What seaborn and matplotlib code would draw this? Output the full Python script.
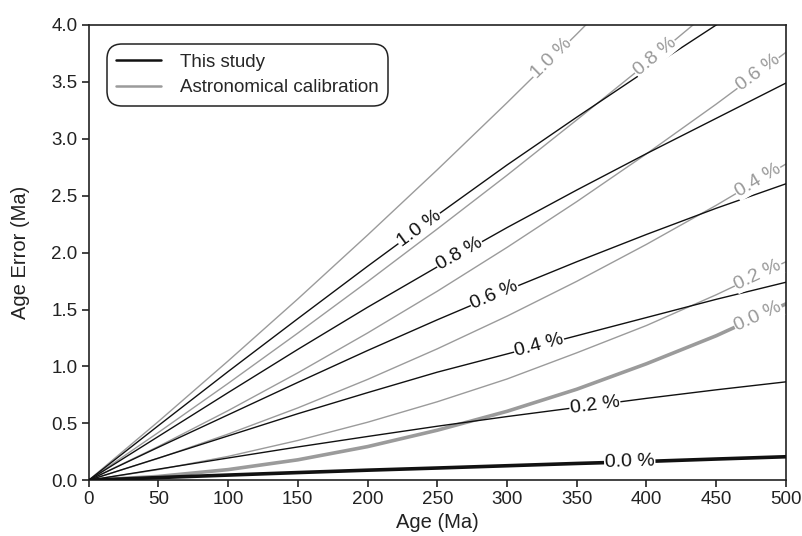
import numpy as np
import pandas as pd
import matplotlib
matplotlib.use("Agg")
import matplotlib.pyplot as plt
import seaborn as sns
from matplotlib.lines import Line2D

# ---- data ----
age = [0, 50, 100, 150, 200, 250, 300, 350, 400, 450, 500]
pct_labels = ["0.0 %", "0.2 %", "0.4 %", "0.6 %", "0.8 %", "1.0 %"]

study_00 = [0, 0.024, 0.046, 0.068, 0.089, 0.108, 0.128, 0.148, 0.166, 0.187, 0.207]
study_02 = [0, 0.098, 0.196, 0.293, 0.385, 0.475, 0.56, 0.64, 0.72, 0.795, 0.865]
study_04 = [0, 0.195, 0.39, 0.585, 0.77, 0.95, 1.11, 1.27, 1.43, 1.59, 1.74]
study_06 = [0, 0.29, 0.575, 0.86, 1.14, 1.41, 1.67, 1.92, 2.16, 2.39, 2.605]
study_08 = [0, 0.385, 0.77, 1.15, 1.52, 1.875, 2.22, 2.55, 2.87, 3.18, 3.49]
study_10 = [0, 0.48, 0.955, 1.42, 1.88, 2.33, 2.77, 3.19, 3.60, 4.00, 4.40]

astro_00 = [0, 0.034, 0.094, 0.18, 0.296, 0.44, 0.606, 0.80, 1.024, 1.27, 1.55]
astro_02 = [0, 0.094, 0.21, 0.35, 0.51, 0.69, 0.89, 1.12, 1.36, 1.63, 1.92]
astro_04 = [0, 0.193, 0.406, 0.636, 0.886, 1.155, 1.442, 1.748, 2.073, 2.416, 2.779]
astro_06 = [0, 0.297, 0.612, 0.944, 1.294, 1.661, 2.046, 2.448, 2.868, 3.305, 3.76]
astro_08 = [0, 0.42, 0.851, 1.293, 1.745, 2.208, 2.68, 3.166, 3.66, 4.17, 4.68]
astro_10 = [0, 0.516, 1.048, 1.593, 2.154, 2.728, 3.317, 3.92, 4.54, 5.18, 5.84]

study_label_x = [388, 363, 323, 291, 266, 237]
astro_label_x = [480, 480, 480, 480, 406, 332]

x_ticks = [0, 50, 100, 150, 200, 250, 300, 350, 400, 450, 500]
y_ticks = [0.0, 0.5, 1.0, 1.5, 2.0, 2.5, 3.0, 3.5, 4.0]

study = [study_00, study_02, study_04, study_06, study_08, study_10]
astro = [astro_00, astro_02, astro_04, astro_06, astro_08, astro_10]

# ---- style ----
sns.set_theme(style="ticks")
plt.rcParams["font.family"] = ["Liberation Sans", "DejaVu Sans"]
plt.rcParams["axes.linewidth"] = 1.2

BLACK = "#111111"
GRAY = "#9b9b9b"
GRAY_TXT = "#999999"
TXT = "#222222"

fig = plt.figure(figsize=(8.03, 5.36), dpi=100)
ax = fig.add_axes([0.1103, 0.1039, 0.9788 - 0.1103, 0.9534 - 0.1039])

rows = []
for lab, s in zip(pct_labels, study):
    for a, v in zip(age, s):
        rows.append(dict(age=a, err=v, curve=lab, source="This study"))
for lab, s in zip(pct_labels, astro):
    for a, v in zip(age, s):
        rows.append(dict(age=a, err=v, curve=lab, source="Astronomical calibration"))
df = pd.DataFrame(rows)

for src, col, z in [("Astronomical calibration", GRAY, 2), ("This study", BLACK, 3)]:
    for lab in pct_labels:
        d = df[(df.source == src) & (df.curve == lab)]
        lw = 2.6 if lab == "0.0 %" else 1.0
        sns.lineplot(data=d, x="age", y="err", color=col, lw=lw, ax=ax,
                     legend=False, zorder=z, estimator=None, sort=True)

ax.set_xlim(0, 500)
ax.set_ylim(0, 4.0)
ax.set_xticks(x_ticks)
ax.set_yticks(y_ticks)
ax.set_yticklabels([f"{t:.1f}" for t in y_ticks])
ax.tick_params(direction="out", length=5, width=1.2, labelsize=13.5, colors=TXT,
               labelcolor=TXT, pad=3)
for sp in ax.spines.values():
    sp.set_visible(True)
    sp.set_color(TXT)
ax.set_xlabel("Age (Ma)", fontsize=14.5, color=TXT, labelpad=3)
ax.set_ylabel("Age Error (Ma)", fontsize=14.5, color=TXT, labelpad=15)


def place_label(xs, ys, xl, text, color, z):
    yl = np.interp(xl, xs, ys)
    p1 = ax.transData.transform((xl - 5, np.interp(xl - 5, xs, ys)))
    p2 = ax.transData.transform((xl + 5, np.interp(xl + 5, xs, ys)))
    ang = np.degrees(np.arctan2(p2[1] - p1[1], p2[0] - p1[0]))
    ax.text(xl, yl, text, rotation=ang, rotation_mode="anchor", ha="center",
            va="center", fontsize=14, color=color, zorder=z,
            bbox=dict(facecolor="white", edgecolor="none", pad=0.6))


for lab, s, xl in zip(pct_labels, astro, astro_label_x):
    place_label(age, s, xl, lab, GRAY_TXT, 4)
for lab, s, xl in zip(pct_labels, study, study_label_x):
    place_label(age, s, xl, lab, BLACK, 5)

handles = [Line2D([], [], color=BLACK, lw=1.8), Line2D([], [], color=GRAY, lw=1.8)]
leg = ax.legend(handles, ["This study", "Astronomical calibration"], loc="upper left",
                bbox_to_anchor=(0.026, 0.958), borderaxespad=0, fontsize=13.5,
                frameon=True, fancybox=True,
                handlelength=2.4, handletextpad=1.0, borderpad=0.5, labelspacing=0.45,
                edgecolor=TXT, framealpha=1)
leg.get_frame().set_linewidth(1.1)
leg.get_frame().set_boxstyle("round,pad=0,rounding_size=0.8")
leg.set_zorder(10)

fig.savefig("out.png", dpi=100)
